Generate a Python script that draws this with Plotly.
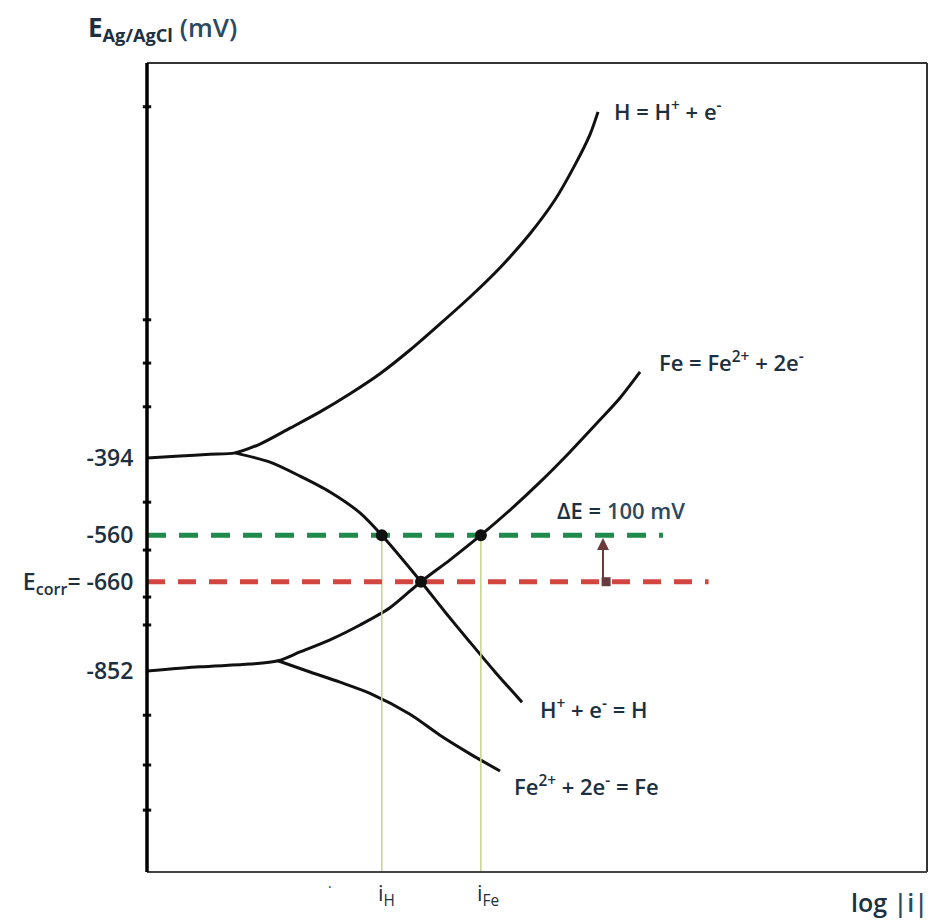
import plotly.graph_objects as go

# ---- data (log|i| in arbitrary units 0..100, E in mV vs Ag/AgCl) ----
h_anodic_x = [0, 4.23, 8.08, 11.28, 14.49, 18.33, 22.18, 26.03, 29.87, 33.72, 37.56, 41.41, 45.26, 49.10, 52.31, 54.87, 56.79, 57.82]
h_anodic_E = [-394, -390, -386, -383, -364, -330, -295, -256, -213, -162, -106, -48, 15, 88, 161, 236, 301, 350]

h_cath_x = [11.28, 15.77, 19.62, 23.46, 27.31, 30.1, 35.13, 38.21, 41.41, 44.62, 48.08]
h_cath_E = [-383, -403, -433, -467, -512, -560, -660, -725, -790, -854, -919]

fe_anodic_x = [0, 6.79, 13.21, 16.79, 19.62, 23.46, 27.31, 31.15, 35.13, 38.85, 42.8, 46.54, 50.38, 54.23, 58.08, 60.64, 63.21]
fe_anodic_E = [-852, -843, -837, -830, -811, -785, -753, -716, -660, -613, -560, -506, -446, -381, -312, -265, -209]

fe_cath_x = [16.79, 20.90, 24.74, 28.59, 33.72, 37.56, 41.41, 45.26]
fe_cath_E = [-830, -854, -876, -900, -945, -990, -1030, -1067]

E_corr = -660
E_shift = -560
i_H = 30.1
i_Fe = 42.8
i_corr = 35.13
green_end = 66.15
red_end = 72.0
arrow_x = 58.46

axis_ticks = [-394, -560, -660, -852]
axis_ticktext = ["-394", "-560", "E<sub>corr</sub>= -660", "-852"]
axis_blips = [361, -97, -190, -284, -489, -592, -693, -753, -947, -1054, -1151]

x_range = [0, 100]
y_range = [-1284, 455]

TXT = "#1c3040"
TXT2 = "#2b4a60"
FONT = "Open Sans"

fig = go.Figure()

curve = dict(mode="lines", line=dict(color="#111111", width=3, shape="spline", smoothing=0.8),
             hoverinfo="skip", showlegend=False)
for xs, ys in [(h_anodic_x, h_anodic_E), (h_cath_x, h_cath_E),
               (fe_anodic_x, fe_anodic_E), (fe_cath_x, fe_cath_E)]:
    fig.add_trace(go.Scatter(x=xs, y=ys, **curve))

# vertical thin lines i_H and i_Fe
for xv in [i_H, i_Fe]:
    fig.add_trace(go.Scatter(x=[xv, xv], y=[E_shift, y_range[0]], mode="lines",
                             line=dict(color="#c4d48a", width=1.5), showlegend=False, hoverinfo="skip"))

# dashed potential lines
fig.add_trace(go.Scatter(x=[0, green_end], y=[E_shift, E_shift], mode="lines",
                         line=dict(color="#1f8a4c", width=5, dash="19px,13px"), showlegend=False))
fig.add_trace(go.Scatter(x=[0, red_end], y=[E_corr, E_corr], mode="lines",
                         line=dict(color="#d2463f", width=5, dash="18px,13px"), showlegend=False))

# intersection dots
fig.add_trace(go.Scatter(x=[i_H, i_corr, i_Fe], y=[E_shift, E_corr, E_shift], mode="markers",
                         marker=dict(color="#111111", size=12), showlegend=False))

# little blips on the potential axis
fig.add_trace(go.Scatter(x=[0] * len(axis_blips), y=axis_blips, mode="markers",
                         marker=dict(symbol="line-ew", size=6, line=dict(color="#111", width=3)),
                         showlegend=False, cliponaxis=False))

# arrow base square
fig.add_trace(go.Scatter(x=[arrow_x + 0.4], y=[E_corr], mode="markers",
                         marker=dict(symbol="square", size=9, color="#6b3a3a"), showlegend=False))

ann = []
ann.append(dict(x=arrow_x, y=E_shift - 6, ax=arrow_x, ay=E_corr, xref="x", yref="y", axref="x", ayref="y",
                showarrow=True, arrowhead=2, arrowsize=1.2, arrowwidth=2, arrowcolor="#6b3a3a", text=""))

def lab(text, px, py, size=22, color=TXT, xanchor="left", weight=600):
    return dict(text=text, x=(px - 147) / 780, y=1 - (py - 63) / 809, xref="paper", yref="paper",
                showarrow=False, xanchor=xanchor, yanchor="middle",
                font=dict(family=FONT, size=size, color=color, weight=weight))

ann += [
    lab("H = H<sup>+</sup> + e<sup>-</sup>", 612, 110),
    lab("Fe = Fe<sup>2+</sup> + 2e<sup>-</sup>", 657, 362),
    lab("ΔE = <span style='color:%s'>100 mV</span>" % TXT2, 555, 510),
    lab("H<sup>+</sup> + e<sup>-</sup> = H", 538, 708),
    lab("Fe<sup>2+</sup> + 2e<sup>-</sup> = Fe", 512, 785),
    lab("i<sub>H</sub>", 386, 894, size=22, xanchor="center", weight=400),
    lab("i<sub>Fe</sub>", 488, 894, size=22, xanchor="center", weight=400),
    lab("log <span style='color:%s'>|i|</span>" % TXT2, 930, 902, size=25, xanchor="right"),
    lab("<b>E<sub>Ag/AgCl</sub></b> <span style='color:%s'>(mV)</span>" % TXT2, 162, 28, size=26, xanchor="center"),
    lab("·", 330, 886, size=14, color="#333", xanchor="center", weight=400),
]

shapes = [
    dict(type="line", xref="paper", yref="paper", x0=0, x1=1, y0=1, y1=1, line=dict(color="#333", width=2)),
    dict(type="line", xref="paper", yref="paper", x0=1, x1=1, y0=0, y1=1, line=dict(color="#333", width=2)),
    dict(type="line", xref="paper", yref="paper", x0=0, x1=1, y0=0, y1=0, line=dict(color="#444", width=2)),
    dict(type="line", xref="paper", yref="paper", x0=0, x1=0, y0=0, y1=1, line=dict(color="#000", width=3.5)),
]

fig.update_layout(
    width=933, height=920,
    margin=dict(l=147, r=6, t=63, b=48),
    paper_bgcolor="white", plot_bgcolor="white",
    showlegend=False,
    annotations=ann, shapes=shapes,
    xaxis=dict(range=x_range, showgrid=False, zeroline=False, showticklabels=False, ticks="", showline=False),
    yaxis=dict(range=y_range, showgrid=False, zeroline=False, showline=False,
               tickvals=axis_ticks, ticktext=axis_ticktext, ticks="outside", ticklen=8,
               tickcolor="rgba(0,0,0,0)", tickfont=dict(family=FONT, size=23, color=TXT, weight=600)),
)

fig.write_html("out.html")
